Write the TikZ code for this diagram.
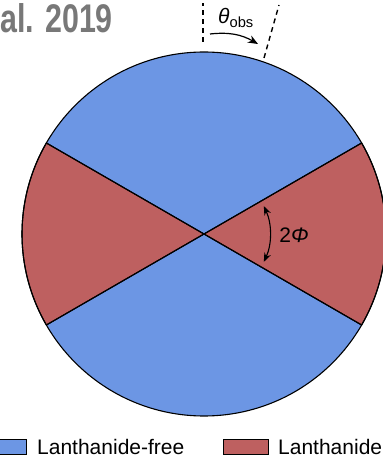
\documentclass[tikz,border=0pt]{standalone}
\usepackage{fontspec}
\setmainfont{Liberation Sans}
\usetikzlibrary{arrows.meta}
\definecolor{lfblue}{RGB}{108,150,228}
\definecolor{lnred}{RGB}{190,96,96}
\definecolor{citegray}{RGB}{120,120,120}
\tikzset{
  freefill/.style={fill=lfblue, draw=black, line width=1.1pt},
  lanthfill/.style={fill=lnred, draw=black, line width=1.1pt},
  obsline/.style={line width=1.4pt, dash pattern=on 5pt off 4pt},
  keybox/.style={draw=black, line width=1pt, minimum width=45pt, minimum height=15pt, inner sep=0pt},
  keytext/.style={font=\fontsize{21}{24}\selectfont, anchor=base west, inner sep=0pt}
}
\begin{document}
\begin{tikzpicture}[x=1pt, y=1pt]
    \useasboundingbox (0,0) rectangle (383,461);
    \clip (0,0) rectangle (383,461);
    \fill[white] (0,0) rectangle (383,461);
    % Citation (cut off)
    \node[anchor=base west, inner sep=0pt, text=citegray, font=\bfseries\fontsize{40}{44}\selectfont, xscale=0.76] (cite) at (0,428) {al. 2019};
    % Ejecta cross-section
    \coordinate (c) at (204,227);
    \fill[lfblue] (c) circle (182);
    \filldraw[lanthfill] (c) -- ++(-30:182) arc (-30:30:182) -- cycle;
    \filldraw[lanthfill] (c) -- ++(150:182) arc (150:210:182) -- cycle;
    \draw[line width=1.1pt] (c) circle (182);
    \draw[line width=1.1pt] (c) -- ++(30:182);
    \draw[line width=1.1pt] (c) -- ++(150:182);
    \draw[line width=1.1pt] (c) -- ++(210:182);
    \draw[line width=1.1pt] (c) -- ++(-30:182);
    % Opening angle
    \draw[line width=1.1pt, {Stealth[length=9pt,width=7pt]}-{Stealth[length=9pt,width=7pt]}] (c) ++(-25:66) arc (-25:25:66);
    \node[font=\fontsize{21}{24}\selectfont] (phi) at (294,226) {2\textit{Φ}};
    % Observer angle
    \coordinate (axtop) at (203,458);
    \coordinate (axbot) at (203,419);
    \coordinate (vtop) at (279,456);
    \coordinate (vbot) at (264,403);
    \draw[obsline] (axbot) -- (axtop);
    \draw[obsline] (vbot) -- (vtop);
    \coordinate (arrs) at (210,427);
    \coordinate (arre) at (258,417);
    \draw[line width=1.2pt, -{Stealth[length=10pt,width=8pt]}] (arrs) to[bend left=18] (arre);
    \node[font=\fontsize{21}{23}\selectfont] (theta) at (236,443) {\textit{θ}\textsubscript{obs}};
    % Legend
    \node[keybox, fill=lfblue, anchor=south east] (keyfree) at (27,6) {};
    \node[keytext] (txtfree) at (37,6) {Lanthanide-free};
    \node[keybox, fill=lnred, anchor=south west] (keylanth) at (223,6) {};
    \node[keytext] (txtlanth) at (278,6) {Lanthanide};
\end{tikzpicture}
\end{document}
